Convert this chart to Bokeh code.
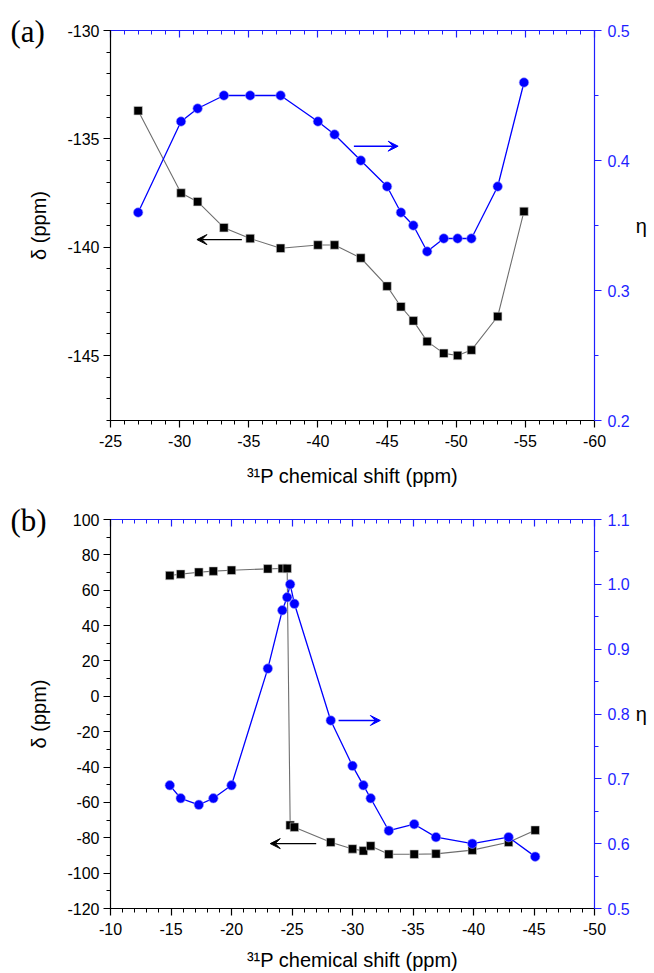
from bokeh.plotting import figure
from bokeh.models import (Range1d, LinearAxis, FixedTicker, Arrow, VeeHead,
                          Title, PrintfTickFormatter)
from bokeh.layouts import column
from bokeh.embed import file_html
from bokeh.resources import INLINE

# ---- panel (a): 31P shift vs. delta (left) and eta (right) ----
shift_a = [-27.0, -30.1, -31.3, -33.2, -35.1, -37.3, -40.0, -41.2, -43.1,
           -45.0, -46.0, -46.9, -47.9, -49.1, -50.1, -51.1, -53.0, -54.9]
delta_a = [-133.7, -137.5, -137.9, -139.1, -139.6, -140.05, -139.9, -139.9,
           -140.5, -141.8, -142.75, -143.4, -144.35, -144.9, -145.0, -144.75,
           -143.2, -138.35]
eta_a = [0.36, 0.43, 0.44, 0.45, 0.45, 0.45, 0.43, 0.42, 0.40,
         0.38, 0.36, 0.35, 0.33, 0.34, 0.34, 0.34, 0.38, 0.46]

# ---- panel (b) ----
shift_b = [-14.9, -15.8, -17.3, -18.5, -20.0, -23.0, -24.2, -24.6, -24.85,
           -25.2, -28.2, -30.0, -30.9, -31.5, -33.0, -35.1, -36.9, -39.9,
           -42.9, -45.1]
delta_b = [68.3, 69.1, 70.2, 70.8, 71.3, 72.1, 72.3, 72.3, -72.9,
           -74.0, -82.5, -86.3, -87.4, -84.6, -89.3, -89.3, -89.1, -87.0,
           -82.5, -75.7]
eta_b = [0.69, 0.67, 0.66, 0.67, 0.69, 0.87, 0.96, 0.98, 1.00,
         0.97, 0.79, 0.72, 0.69, 0.67, 0.62, 0.63, 0.61, 0.60,
         0.61, 0.58]

# tick positions
x_major_a = [-25, -30, -35, -40, -45, -50, -55, -60]
x_minor_a = list(range(-60, -24))
d_major_a = [-145, -140, -135, -130]
d_minor_a = list(range(-148, -129))
e_major_a = [0.2, 0.3, 0.4, 0.5]
e_minor_a = [0.2, 0.25, 0.3, 0.35, 0.4, 0.45, 0.5]

x_major_b = [-10, -15, -20, -25, -30, -35, -40, -45, -50]
x_minor_b = list(range(-50, -9))
d_major_b = [-120, -100, -80, -60, -40, -20, 0, 20, 40, 60, 80, 100]
d_minor_b = list(range(-120, 101, 10))
e_major_b = [0.5, 0.6, 0.7, 0.8, 0.9, 1.0, 1.1]
e_minor_b = [0.5, 0.55, 0.6, 0.65, 0.7, 0.75, 0.8, 0.85, 0.9, 0.95,
             1.0, 1.05, 1.1]

BLUE = "#0000ff"
AXIS_BLUE = "#1f1fff"
SANS = "Liberation Sans"
XLABEL = "\u00b3\u00b9P chemical shift (ppm)"


def style_axis(ax, color, label_color="black"):
    ax.axis_line_color = color
    ax.major_tick_line_color = color
    ax.minor_tick_line_color = color
    ax.major_label_text_color = color
    ax.axis_label_text_color = label_color
    ax.major_label_text_font = SANS
    ax.major_label_text_font_size = "16px"
    ax.axis_label_text_font = SANS
    ax.axis_label_text_font_size = "20px"
    ax.axis_label_text_font_style = "normal"
    ax.axis_line_width = 1.2
    ax.major_tick_line_width = 1.2
    ax.minor_tick_line_width = 1.0
    ax.major_tick_out = 7
    ax.major_tick_in = 0
    ax.minor_tick_out = 4
    ax.minor_tick_in = 0


def make_panel(tag, xs, ds, es, xr, dr, er, xmaj, xmin, dmaj, dmin, emaj, emin,
               height, top, bottom, arrow_d, arrow_e, lab_off, title_off):
    p = figure(width=654, height=height, output_backend="svg",
               toolbar_location=None, x_range=Range1d(*xr),
               y_range=Range1d(*dr), min_border_left=110, min_border_right=60,
               min_border_top=top, min_border_bottom=bottom, title=None)
    p.extra_y_ranges = {"eta": Range1d(*er)}
    p.grid.visible = False
    p.outline_line_color = None
    p.background_fill_color = "white"
    p.border_fill_color = "white"

    # bottom axis
    bx = p.xaxis[0]
    bx.ticker = FixedTicker(ticks=xmaj, minor_ticks=xmin)
    bx.formatter = PrintfTickFormatter(format="%d")
    bx.axis_label = XLABEL
    style_axis(bx, "black")
    bx.major_label_standoff = lab_off
    bx.axis_label_standoff = title_off

    # left axis
    ly = p.yaxis[0]
    ly.ticker = FixedTicker(ticks=dmaj, minor_ticks=dmin)
    ly.formatter = PrintfTickFormatter(format="%d")
    ly.axis_label = "\u03b4 (ppm)"
    style_axis(ly, "black")
    ly.major_label_standoff = 4
    ly.axis_label_standoff = 14

    # right axis (eta)
    ry = LinearAxis(y_range_name="eta",
                    ticker=FixedTicker(ticks=emaj, minor_ticks=emin),
                    formatter=PrintfTickFormatter(format="%.1f"),
                    axis_label="\u03b7")
    style_axis(ry, AXIS_BLUE)
    ry.axis_label_orientation = "horizontal"
    ry.axis_label_text_font_size = "20px"
    ry.major_label_standoff = 6
    ry.axis_label_standoff = 3
    p.add_layout(ry, "right")

    # mirrored top axis, ticks only
    tx = LinearAxis(ticker=FixedTicker(ticks=xmaj, minor_ticks=xmin))
    style_axis(tx, AXIS_BLUE)
    tx.major_tick_out = 0
    tx.major_tick_in = 7
    tx.minor_tick_out = 0
    tx.minor_tick_in = 4
    tx.major_label_text_color = None
    p.add_layout(tx, "above")

    # delta series
    p.line(xs, ds, line_color="#6e6e6e", line_width=1.1)
    p.scatter(xs, ds, marker="square", size=8.5, fill_color="black",
              line_color="#d0d0d0", line_width=0.6)
    # eta series
    p.line(xs, es, line_color=BLUE, line_width=1.3, y_range_name="eta")
    p.scatter(xs, es, marker="circle", size=9.5, fill_color=BLUE,
              line_color="#9a9aff", line_width=0.6, y_range_name="eta")

    # arrows pointing to the axis each series belongs to
    (dx0, dx1, dy) = arrow_d
    p.add_layout(Arrow(end=VeeHead(size=10, fill_color="black",
                                   line_color="black", line_width=1),
                       x_start=dx0, y_start=dy, x_end=dx1, y_end=dy,
                       line_color="black", line_width=1.4))
    (ex0, ex1, ey) = arrow_e
    p.add_layout(Arrow(end=VeeHead(size=10, fill_color=BLUE,
                                   line_color=BLUE, line_width=1),
                       x_start=ex0, y_start=ey, x_end=ex1, y_end=ey,
                       line_color=BLUE, line_width=1.4, y_range_name="eta"))

    # panel tag, pulled down beside the top-left corner of the frame
    p.add_layout(Title(text=tag, align="left", offset=-100, standoff=-36,
                       vertical_align="bottom", text_font="Liberation Serif",
                       text_font_size="31px", text_font_style="normal",
                       text_color="black"), "above")
    return p


pa = make_panel("(a)", shift_a, delta_a, eta_a, (-25, -60), (-148, -130),
                (0.2, 0.5), x_major_a, x_minor_a, d_major_a, d_minor_a,
                e_major_a, e_minor_a, height=497, top=30, bottom=77,
                arrow_d=(-34.5, -31.25, -139.65),
                arrow_e=(-42.6, -45.8, 0.411), lab_off=7, title_off=15)
pb = make_panel("(b)", shift_b, delta_b, eta_b, (-10, -50), (-120, 100),
                (0.5, 1.1), x_major_b, x_minor_b, d_major_b, d_minor_b,
                e_major_b, e_minor_b, height=476, top=22, bottom=65,
                arrow_d=(-27.0, -23.2, -83.3),
                arrow_e=(-28.85, -32.3, 0.79), lab_off=7, title_off=11)

layout = column(pa, pb, spacing=0)
open("out.html", "w").write(file_html(layout, INLINE))
